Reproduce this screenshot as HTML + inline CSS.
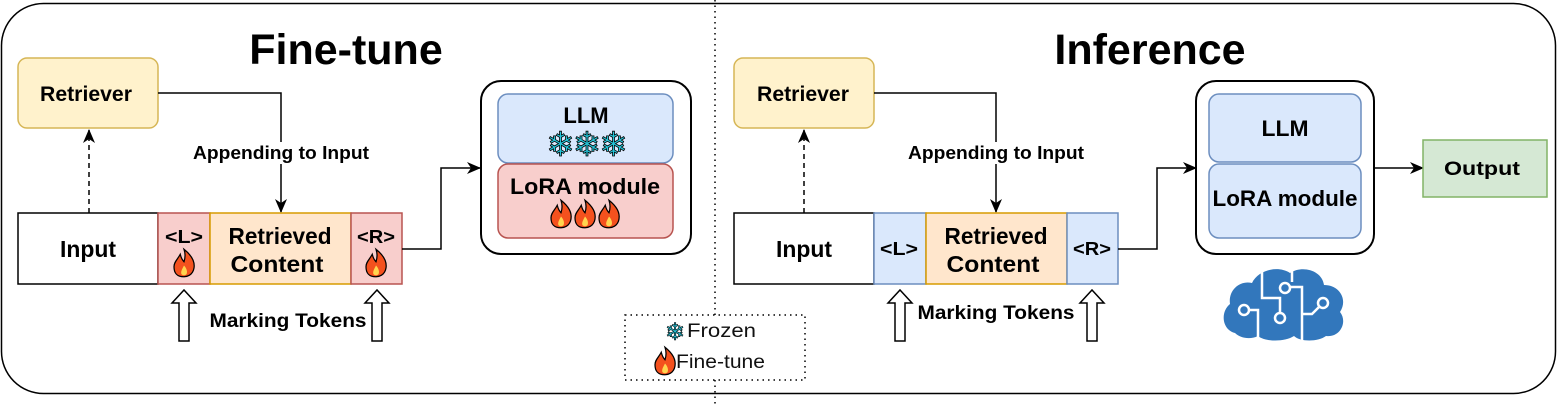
<!DOCTYPE html>
<html><head><meta charset="utf-8"><style>
html,body{margin:0;padding:0;background:#fff}
svg{display:block}
text{font-family:"Liberation Sans",Arial,sans-serif}
.b{font-weight:bold}
</style></head><body>
<svg width="1558" height="405" viewBox="0 0 1558 405" xmlns="http://www.w3.org/2000/svg">
<defs>
<marker id="ah" markerWidth="14" markerHeight="14" refX="13" refY="7" orient="auto" markerUnits="userSpaceOnUse">
<path d="M0,1 L14,7 L0,13 L4,7 Z" fill="#000"/></marker>
<g id="fire" transform="scale(1.25)">
<path d="M0,-11 C5,-7 9,-2 8,4 C7,10 2,11 0,11 C-5,11 -8,9 -8,3 C-8,-1 -5,-3 -3,-7 C-2,-3 -1,-2 0,-1 C1,-4 1,-8 0,-11 Z" fill="#f4511e" stroke="#000" stroke-width="1"/>
<path d="M0,2 C2,4 3,7 2,9 C1,10 -1,10 -2,9 C-3,7 -1,4 0,2 Z" fill="#ffd54f"/>
</g>
<g id="hollow"><path d="M-5,0 L-5,-38 L-12,-38 L0,-51 L12,-38 L5,-38 L5,0 Z" fill="#fff" stroke="#000" stroke-width="1.5"/></g>
</defs>
<rect x="1.5" y="3.5" width="1554" height="390" rx="42" fill="#fff" stroke="#000" stroke-width="1.5"/>
<line x1="715" y1="0" x2="715" y2="315" stroke="#000" stroke-dasharray="1.5,4" stroke-width="1.5"/>
<line x1="715" y1="380" x2="715" y2="405" stroke="#000" stroke-dasharray="1.5,4" stroke-width="1.5"/>

<!-- LEFT -->
<text x="346" y="64" text-anchor="middle" class="b" font-size="43">Fine-tune</text>
<rect x="18" y="58" width="140" height="70" rx="9" fill="#fff2cc" stroke="#d6b656" stroke-width="1.5"/>
<text x="86" y="101" text-anchor="middle" class="b" font-size="21" textLength="92" lengthAdjust="spacingAndGlyphs">Retriever</text>
<line x1="89" y1="213" x2="89" y2="130" stroke="#000" stroke-width="1.5" stroke-dasharray="5,4" marker-end="url(#ah)"/>
<polyline points="158,93 281,93 281,212" fill="none" stroke="#000" stroke-width="1.5" marker-end="url(#ah)"/>
<rect x="192" y="142" width="178" height="22" fill="#fff"/>
<text x="281" y="159" text-anchor="middle" class="b" font-size="18" textLength="176" lengthAdjust="spacingAndGlyphs">Appending to Input</text>
<rect x="18" y="213" width="140" height="71" fill="#fff" stroke="#000" stroke-width="1.5"/>
<text x="88" y="257" text-anchor="middle" class="b" font-size="23" textLength="56" lengthAdjust="spacingAndGlyphs">Input</text>
<rect x="158" y="213" width="52" height="71" fill="#f8cecc" stroke="#b85450" stroke-width="1.5"/>
<text x="184" y="243" text-anchor="middle" class="b" font-size="18" textLength="38" lengthAdjust="spacingAndGlyphs">&lt;L&gt;</text>
<use href="#fire" x="184" y="263"/>
<rect x="210" y="213" width="141" height="71" fill="#ffe6cc" stroke="#d79b00" stroke-width="1.5"/>
<text x="280" y="244" text-anchor="middle" class="b" font-size="23" textLength="103" lengthAdjust="spacingAndGlyphs">Retrieved</text>
<text x="277" y="272" text-anchor="middle" class="b" font-size="23" textLength="93" lengthAdjust="spacingAndGlyphs">Content</text>
<rect x="351" y="213" width="51" height="71" fill="#f8cecc" stroke="#b85450" stroke-width="1.5"/>
<text x="376" y="243" text-anchor="middle" class="b" font-size="18" textLength="38" lengthAdjust="spacingAndGlyphs">&lt;R&gt;</text>
<use href="#fire" x="376" y="263"/>
<polyline points="402,249 441,249 441,168 480,168" fill="none" stroke="#000" stroke-width="1.5" marker-end="url(#ah)"/>
<rect x="481" y="81" width="210" height="173" rx="20" fill="#fff" stroke="#000" stroke-width="2"/>
<rect x="498" y="94" width="175" height="69" rx="10" fill="#dae8fc" stroke="#6c8ebf" stroke-width="1.5"/>
<text x="586" y="123" text-anchor="middle" class="b" font-size="22">LLM</text>
<text x="586" y="156" text-anchor="middle" font-size="34" fill="#26c6da" stroke="#000" stroke-width="0.8" font-family="DejaVu Sans" letter-spacing="-2">❄❄❄</text>
<rect x="498" y="164" width="175" height="74" rx="10" fill="#f8cecc" stroke="#b85450" stroke-width="1.5"/>
<text x="585" y="194" text-anchor="middle" class="b" font-size="22" textLength="150" lengthAdjust="spacingAndGlyphs">LoRA module</text>
<use href="#fire" x="561" y="214"/><use href="#fire" x="585" y="214"/><use href="#fire" x="609" y="214"/>
<use href="#hollow" x="184" y="341"/>
<use href="#hollow" x="377" y="341"/>
<text x="288" y="327" text-anchor="middle" class="b" font-size="19" textLength="157" lengthAdjust="spacingAndGlyphs">Marking Tokens</text>

<!-- Legend -->
<rect x="625" y="315" width="180" height="65" fill="none" stroke="#000" stroke-width="1.5" stroke-dasharray="1.5,4"/>
<text x="675" y="340" text-anchor="middle" font-size="24" fill="#26c6da" stroke="#000" stroke-width="0.6" font-family="DejaVu Sans">❄</text>
<text x="687" y="337" font-size="19" fill="#111" textLength="69" lengthAdjust="spacingAndGlyphs">Frozen</text>
<use href="#fire" x="665" y="361"/>
<text x="676" y="368" font-size="19" fill="#111" textLength="89" lengthAdjust="spacingAndGlyphs">Fine-tune</text>

<!-- RIGHT -->
<text x="1150" y="64" text-anchor="middle" class="b" font-size="43">Inference</text>
<rect x="734" y="58" width="140" height="70" rx="9" fill="#fff2cc" stroke="#d6b656" stroke-width="1.5"/>
<text x="803" y="101" text-anchor="middle" class="b" font-size="21" textLength="92" lengthAdjust="spacingAndGlyphs">Retriever</text>
<line x1="804" y1="213" x2="804" y2="130" stroke="#000" stroke-width="1.5" stroke-dasharray="5,4" marker-end="url(#ah)"/>
<polyline points="874,93 996,93 996,212" fill="none" stroke="#000" stroke-width="1.5" marker-end="url(#ah)"/>
<rect x="907" y="142" width="178" height="22" fill="#fff"/>
<text x="996" y="159" text-anchor="middle" class="b" font-size="18" textLength="176" lengthAdjust="spacingAndGlyphs">Appending to Input</text>
<rect x="734" y="213" width="140" height="71" fill="#fff" stroke="#000" stroke-width="1.5"/>
<text x="804" y="257" text-anchor="middle" class="b" font-size="23" textLength="56" lengthAdjust="spacingAndGlyphs">Input</text>
<rect x="874" y="213" width="52" height="71" fill="#dae8fc" stroke="#6c8ebf" stroke-width="1.5"/>
<text x="899" y="255" text-anchor="middle" class="b" font-size="18" textLength="38" lengthAdjust="spacingAndGlyphs">&lt;L&gt;</text>
<rect x="926" y="213" width="141" height="71" fill="#ffe6cc" stroke="#d79b00" stroke-width="1.5"/>
<text x="996" y="244" text-anchor="middle" class="b" font-size="23" textLength="103" lengthAdjust="spacingAndGlyphs">Retrieved</text>
<text x="993" y="272" text-anchor="middle" class="b" font-size="23" textLength="93" lengthAdjust="spacingAndGlyphs">Content</text>
<rect x="1067" y="213" width="51" height="71" fill="#dae8fc" stroke="#6c8ebf" stroke-width="1.5"/>
<text x="1092" y="255" text-anchor="middle" class="b" font-size="18" textLength="38" lengthAdjust="spacingAndGlyphs">&lt;R&gt;</text>
<polyline points="1118,249 1157,249 1157,168 1196,168" fill="none" stroke="#000" stroke-width="1.5" marker-end="url(#ah)"/>
<rect x="1196" y="81" width="178" height="173" rx="20" fill="#fff" stroke="#000" stroke-width="2"/>
<rect x="1209" y="94" width="152" height="68" rx="10" fill="#dae8fc" stroke="#6c8ebf" stroke-width="1.5"/>
<text x="1285" y="136" text-anchor="middle" class="b" font-size="22" textLength="47" lengthAdjust="spacingAndGlyphs">LLM</text>
<rect x="1209" y="164" width="152" height="74" rx="10" fill="#dae8fc" stroke="#6c8ebf" stroke-width="1.5"/>
<text x="1285" y="206" text-anchor="middle" class="b" font-size="22" textLength="145" lengthAdjust="spacingAndGlyphs">LoRA module</text>
<line x1="1374" y1="168" x2="1423" y2="168" stroke="#000" stroke-width="1.5" marker-end="url(#ah)"/>
<rect x="1423" y="140" width="124" height="57" fill="#d5e8d4" stroke="#82b366" stroke-width="1.5"/>
<text x="1482" y="175" text-anchor="middle" class="b" font-size="19" textLength="76" lengthAdjust="spacingAndGlyphs">Output</text>
<use href="#hollow" x="900" y="341"/>
<use href="#hollow" x="1092" y="341"/>
<text x="996" y="319" text-anchor="middle" class="b" font-size="19" textLength="157" lengthAdjust="spacingAndGlyphs">Marking Tokens</text>

<!-- brain cloud -->
<g>
<path d="M1235,333 C1222,330 1220,312 1230,304 C1228,290 1240,280 1252,283 C1258,270 1278,265 1290,273 C1302,265 1322,270 1324,285 C1340,285 1348,300 1340,312 C1348,322 1340,338 1326,336 C1318,342 1300,342 1294,336 C1285,342 1265,342 1258,336 C1250,340 1240,338 1235,333 Z" fill="#3277bc"/>
<g fill="none" stroke="#fff" stroke-width="2.5">
<polyline points="1262,268 1262,298 1280,298 1280,312"/>
<circle cx="1280" cy="318" r="5"/>
<polyline points="1292,270 1292,282"/>
<circle cx="1285" cy="288" r="5"/>
<polyline points="1290,287 1302,287 1302,340"/>
<circle cx="1323" cy="303" r="5"/>
<polyline points="1319,307 1312,314 1302,314"/>
<circle cx="1244" cy="310" r="5"/>
<polyline points="1249,310 1258,310 1258,340"/>
</g>
</g>
</svg>
</body></html>
